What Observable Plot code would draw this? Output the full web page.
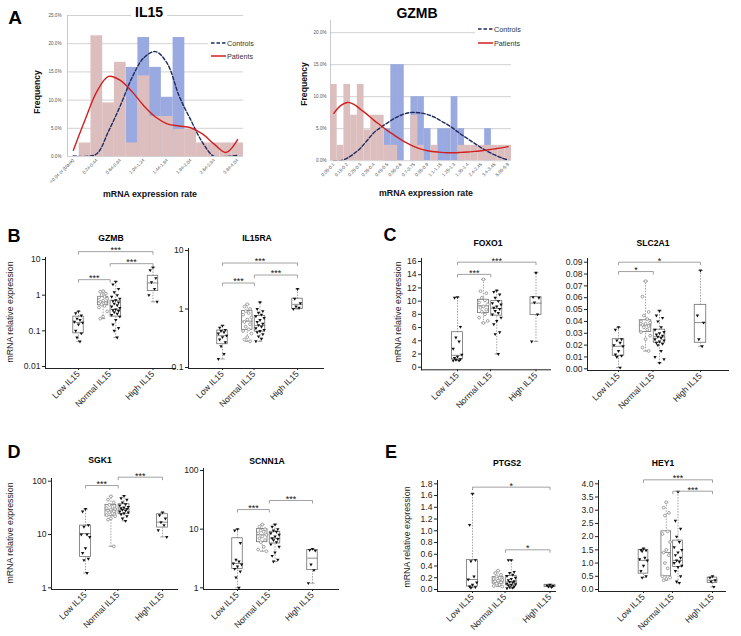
<!DOCTYPE html>
<html><head><meta charset="utf-8">
<script src="https://cdn.jsdelivr.net/npm/d3@7"></script>
<script src="https://cdn.jsdelivr.net/npm/@observablehq/plot@0.6"></script>
<style>
body{margin:0;background:#fff;}
#fig{position:relative;width:741px;height:636px;overflow:hidden;background:#fff;font-family:"Liberation Sans",Arial,sans-serif;}
.t{position:absolute;white-space:nowrap;line-height:1;}
</style></head><body><div id="fig"></div>
<script>
// ================= Panel A : histograms =================
const IL15_bins = ["<0.04 or (blank)","0.04-0.24","0.24-0.44","0.44-0.64","0.64-0.84","0.84-1.04","1.04-1.24","1.24-1.44","1.44-1.64","1.64-1.84","1.84-2.04","2.24-2.44","2.64-2.84","3.24-3.44","3.84-4.04"];
const IL15_controls = [0,0,0,0,0,15.8,21.1,15.8,10.5,21.1,0,0,0,0,0];
const IL15_patients = [0,2.4,21.4,9.5,16.7,2.4,14.3,7.1,7.1,4.8,4.8,2.4,2.4,2.4,2.4];
const IL15_controlsFit = [0.1,0,0.5,4.5,9,14,17.5,18.6,16.5,10.8,6.5,2.5,0,0,0.2];
const IL15_patientsFit = [1.1,6.5,11.5,14.2,13.5,11.5,9,7,5.8,5.4,5.1,4,2.2,0.7,3.0];
const IL15_yticks = [0,5,10,15,20,25];

const GZMBh_bins = ["0.05-0.1","0.1-0.15","0.15-0.2","0.2-0.25","0.25-0.3","0.3-0.35","0.35-0.4","0.4-0.45","0.45-0.5","0.5-0.55","0.55-0.6","0.6-0.65","0.7-0.75","0.75-0.8","0.85-0.9","0.95-1","1.1-1.15","1.15-1.2","1.25-1.3","1.3-1.35","1.35-1.4","1.6-1.65","2.4-2.45","2.75-2.8","3.4-3.45","4.15-4.2","5.85-5.9"];
const GZMBh_controls = [0,0,0,0,0,0,0,0,5,15,15,0,10,10,5,0,5,5,10,5,0,0,0,5,0,0,0];
const GZMBh_patients = [11.9,2.4,11.9,7.1,11.9,4.8,7.1,7.1,2.4,2.4,0,0,7.1,2.4,0,2.4,0,0,0,2.4,2.4,2.4,2.4,2.4,2.4,2.4,2.4];
const GZMBh_controlsFit = [0,0,0.4,1.1,2.0,3.2,4.4,5.2,5.9,6.6,7.1,7.45,7.55,7.45,7.2,6.8,6.2,5.6,4.9,4.1,3.4,2.7,2.0,1.4,0.9,0.45,0.1];
const GZMBh_patientsFit = [7.4,8.6,9.1,8.8,8.0,7.2,6.3,5.5,4.7,4.0,3.3,2.7,2.2,1.8,1.55,1.4,1.3,1.25,1.25,1.3,1.35,1.45,1.55,1.7,1.85,2.0,2.2];
const GZMBh_yticks = [0,5,10,15,20];

// ================= Panels B-E : box plots =================
const groupLabels = ["Low IL15","Normal IL15","High IL15"];

const GZMB_low = [0.35,0.31,0.27,0.22,0.2,0.18,0.17,0.15,0.1,0.085,0.065,0.05];
const GZMB_normG = [1.3,1.25,1.1,1.0,0.9,0.85,0.8,0.7,0.65,0.6,0.55,0.5,0.45,0.35,0.25,0.22];
const GZMB_normB = [2.4,2.0,1.5,1.2,1.0,0.9,0.8,0.72,0.68,0.62,0.58,0.52,0.48,0.44,0.4,0.38,0.36,0.33,0.3,0.28,0.25,0.2,0.15,0.12,0.1,0.065];
const GZMB_high = [6.0,5.0,3.0,2.3,1.5,1.0,0.65];
const GZMB_box = [[0.085,0.17,0.25],[0.52,0.65,0.88],[0.25,0.4,0.7],[1.3,2.2,3.5]];
const GZMB_ticks = [0.01,0.1,1,10];
const GZMB_sig = [["low","normal",2.72,"***"],["normal","high",7.64,"***"],["low","high",16.6,"***"]];

const IL15RA_low = [0.52,0.48,0.44,0.42,0.4,0.38,0.35,0.33,0.3,0.27,0.23,0.17,0.14];
const IL15RA_normG = [1.2,1.1,1.0,0.92,0.85,0.8,0.72,0.66,0.6,0.55,0.5,0.45,0.42,0.38,0.33,0.3,0.28];
const IL15RA_normB = [1.3,1.0,0.92,0.86,0.8,0.75,0.7,0.65,0.6,0.56,0.53,0.5,0.47,0.44,0.42,0.4,0.37,0.34,0.31,0.28];
const IL15RA_high = [2.2,1.5,1.25,1.1,1.05,1.0];
const IL15RA_box = [[0.25,0.35,0.43],[0.44,0.62,0.92],[0.41,0.52,0.76],[1.0,1.2,1.5]];
const IL15RA_ticks = [0.1,1,10];
const IL15RA_sig = [["low","normal",2.78,"***"],["normal","high",3.81,"***"],["low","high",6.11,"***"]];

const FOXO1_low = [10.6,10.5,6.1,4.5,3.9,2.8,1.9,1.6,1.4,1.2,1.1,1.0,1.0];
const FOXO1_normG = [13.3,11.5,11.2,10.5,10.1,9.8,9.5,9.2,9.0,8.7,8.4,8.0,7.5,7.0,6.7];
const FOXO1_normB = [11.6,11.4,11.0,10.5,10.0,9.7,9.5,9.2,9.0,8.8,8.5,8.2,8.0,7.5,7.0,6.5,5.3,5.0,2.0];
const FOXO1_high = [14.3,10.6,10.5,9.8,8.0,3.9];
const FOXO1_box = [[1.2,1.8,5.3],[8.2,9.3,10.2],[7.8,8.9,10.0],[7.9,9.7,10.6]];
const FOXO1_ticks = [0,2,4,6,8,10,12,14,16];
const FOXO1_sig = [["low","normal",14.05,"***"],["low","high",15.9,"***"]];

const SLC2A1_low = [0.035,0.033,0.025,0.024,0.022,0.020,0.019,0.015,0.012,0.011,0.010,0.001];
const SLC2A1_normG = [0.074,0.061,0.048,0.045,0.042,0.040,0.039,0.038,0.037,0.036,0.035,0.033,0.031,0.028,0.025,0.018,0.015];
const SLC2A1_normB = [0.049,0.045,0.043,0.040,0.035,0.033,0.031,0.030,0.029,0.028,0.027,0.026,0.025,0.024,0.023,0.022,0.021,0.020,0.015,0.010,0.008,0.005];
const SLC2A1_high = [0.083,0.045,0.039,0.025,0.019];
const SLC2A1_box = [[0.011,0.019,0.025],[0.031,0.037,0.041],[0.022,0.027,0.033],[0.022,0.039,0.054]];
const SLC2A1_ticks = [0,0.01,0.02,0.03,0.04,0.05,0.06,0.07,0.08,0.09];
const SLC2A1_sig = [["low","normal",0.0821,"*"],["low","high",0.090,"*"]];

const SGK1_low = [30,27,15,14,10,10,9,5.5,4.5,3.5,3.3,1.9];
const SGK1_normG = [52,45,40,36,33,31,30,29,28,27,26,25,23,22,20,19,6];
const SGK1_normB = [53,48,45,40,37,35,33,32,31,30,29,28,27,26,25,24,22,20,18];
const SGK1_high = [26,23,20,17,15,12,9];
const SGK1_box = [[3.8,10.4,14.7],[22,29,36],[24,30,37],[13.5,17,24]];
const SGK1_ticks = [1,10,100];
const SGK1_sig = [["low","normal",83,"***"],["normal","high",119,"***"]];

const SCNN1A_low = [10,9.5,5.8,3.0,2.8,2.6,2.5,2.3,2.1,1.9,1.5,1.0];
const SCNN1A_normG = [12,11,10,9.5,9,8.5,8,7.5,7,6.5,6,5,4.5,4.2];
const SCNN1A_normB = [12,11,10,9.5,9,8.5,8,7.5,7,6.8,6.5,6,5.5,5,4,3.5,3,2.8];
const SCNN1A_high = [4.6,4.4,4.3,2.5,2.0,1.2];
const SCNN1A_box = [[2.1,2.6,7.0],[6,8,10],[5.7,7,9],[2.0,3.2,4.4]];
const SCNN1A_ticks = [1,10,100];
const SCNN1A_sig = [["low","normal",21.6,"***"],["normal","high",30.8,"***"]];

const PTGS2_low = [1.63,1.1,0.5,0.48,0.22,0.17,0.12,0.08,0.05,0.04,0.03];
const PTGS2_normG = [0.32,0.28,0.25,0.22,0.2,0.18,0.16,0.15,0.14,0.12,0.1,0.08,0.06,0.05];
const PTGS2_normB = [0.5,0.5,0.3,0.28,0.25,0.23,0.2,0.18,0.16,0.14,0.13,0.12,0.1,0.09,0.08,0.07,0.05,0.04,0.03,0.02];
const PTGS2_high = [0.08,0.07,0.06,0.05,0.04];
const PTGS2_box = [[0.05,0.17,0.5],[0.1,0.15,0.21],[0.07,0.13,0.23],[0.04,0.06,0.08]];
const PTGS2_ticks = [0,0.2,0.4,0.6,0.8,1.0,1.2,1.4,1.6,1.8];
const PTGS2_sig = [["low","high",1.743,"*"],["normal","high",0.676,"*"]];

const HEY1_low = [1.55,1.5,1.48,1.45,1.2,1.15,1.1,0.9,0.7,0.5,0.45];
const HEY1_normG = [3.3,3.1,2.9,2.8,2.2,2.1,1.8,1.5,1.4,1.3,1.0,0.8,0.5,0.45,0.4,0.35];
const HEY1_normB = [3.7,2.6,2.3,2.0,1.8,1.6,1.5,1.4,1.3,1.2,1.1,1.05,1.0,0.9,0.85,0.7,0.5,0.3,0.25];
const HEY1_high = [0.5,0.45,0.35,0.3,0.1];
const HEY1_box = [[0.6,1.1,1.5],[0.5,1.4,2.2],[0.85,1.1,1.85],[0.25,0.35,0.45]];
const HEY1_ticks = [0,0.5,1.0,1.5,2.0,2.5,3.0,3.5,4.0];
const HEY1_sig = [["low","high",4.15,"***"],["normal","high",3.72,"***"]];

// ================= helpers =================
const fig = document.getElementById("fig");
const FONT = '"Liberation Sans", Arial, sans-serif';
function put(el, left, top) {
  el.style.position = "absolute";
  el.style.left = left + "px";
  el.style.top = top + "px";
  fig.appendChild(el);
}
function label(text, x, y, o = {}) {
  const d = document.createElement("div");
  d.className = "t";
  d.textContent = text;
  d.style.left = x + "px"; d.style.top = y + "px";
  d.style.fontSize = (o.size || 8.5) + "px";
  d.style.fontWeight = o.bold ? "bold" : "normal";
  d.style.color = o.color || "#111";
  const ax = o.anchor === "start" ? "0" : o.anchor === "end" ? "-100%" : "-50%";
  d.style.transform = `translate(${ax},-50%)` + (o.rotate ? ` rotate(${o.rotate}deg)` : "");
  if (o.bg) { d.style.background = o.bg; d.style.padding = o.pad || "0 3px"; }
  fig.appendChild(d);
  return d;
}
function legend(x, y, w, h, rows) {
  const d = document.createElement("div");
  d.style.cssText = `position:absolute;left:${x}px;top:${y}px;width:${w}px;height:${h}px;background:#fff;`;
  let html = `<svg width="${w}" height="${h}" style="position:absolute;left:0;top:0">`;
  rows.forEach((r) => {
    html += `<line x1="3" x2="18" y1="${r.y}" y2="${r.y}" stroke="${r.color}" stroke-width="1.5" ${r.dash ? 'stroke-dasharray="3.5,2"' : ""}/>`;
    html += `<text x="19" y="${r.y + 2.5}" font-size="7.2" font-family='${FONT}' fill="#333">${r.text}</text>`;
  });
  html += "</svg>";
  d.innerHTML = html;
  fig.appendChild(d);
}

// ================= histogram builder =================
function hist(c) {
  const mL = 40, mT = 10, mR = 10, mB = 45;
  const n = c.bins.length;
  const idx = d3.range(n);
  const xt = idx.filter(i => i % 2 === 0).map(i => i + 0.5);
  const svg = Plot.plot({
    width: mL + (c.x1 - c.x0) + mR,
    height: mT + (c.yBot - c.yTop) + mB,
    marginLeft: mL, marginTop: mT, marginRight: mR, marginBottom: mB,
    style: {background: "transparent", overflow: "visible", fontFamily: FONT, fontSize: "4.6px", color: "#555"},
    x: {type: "linear", domain: [0, n], ticks: xt, tickFormat: d => c.bins[Math.floor(d)], tickRotate: -45, tickSize: 0, tickPadding: 3, label: null},
    y: {type: "linear", domain: [0, c.yMax], ticks: c.yticks, tickFormat: d => d.toFixed(1) + "%", tickSize: 0, tickPadding: c.pad, label: null},
    marks: [
      Plot.ruleY(c.yticks, {stroke: "#c6c6c6", strokeWidth: 0.8}),
      Plot.ruleX([0], {stroke: "#bdbdbd", strokeWidth: 0.8}),
      Plot.rect(idx, {x1: i => i, x2: i => i + 1, y1: 0, y2: i => c.controls[i], fill: "#9aa9df"}),
      Plot.rect(idx, {x1: i => i, x2: i => i + 1, y1: 0, y2: i => c.patients[i], fill: "#ddbebe"}),
      Plot.line(idx, {x: i => i + 0.5, y: i => c.controlsFit[i], curve: "catmull-rom", stroke: "#1f2a5e", strokeWidth: 1.4, strokeDasharray: "3.5,2", clip: true}),
      Plot.line(idx, {x: i => i + 0.5, y: i => c.patientsFit[i], curve: "catmull-rom", stroke: "#d11f1f", strokeWidth: 1.4, clip: true})
    ]
  });
  put(svg, c.x0 - mL, c.yTop - mT);
}

hist({bins: IL15_bins, controls: IL15_controls, patients: IL15_patients, controlsFit: IL15_controlsFit, patientsFit: IL15_patientsFit,
      yticks: IL15_yticks, yMax: 25, x0: 67, x1: 243, yTop: 15, yBot: 156, pad: 6});
hist({bins: GZMBh_bins, controls: GZMBh_controls, patients: GZMBh_patients, controlsFit: GZMBh_controlsFit, patientsFit: GZMBh_patientsFit,
      yticks: GZMBh_yticks, yMax: 21.9, x0: 330, x1: 511, yTop: 20.1, yBot: 160.3, pad: 4});

// panel A texts
label("A", 15, 17, {size: 19, bold: true, color: "#000"});
label("IL15", 149, 12, {size: 14, bold: true, color: "#000", bg: "#fff", pad: "0 4px"});
label("GZMB", 417, 13, {size: 14, bold: true, color: "#000"});
label("Frequency", 37, 92, {size: 8.6, bold: true, color: "#111", rotate: -90});
label("Frequency", 304, 84, {size: 8.6, bold: true, color: "#111", rotate: -90});
label("mRNA expression rate", 150, 194, {size: 8.8, bold: true, color: "#111"});
label("mRNA expression rate", 426, 193, {size: 8.8, bold: true, color: "#111"});
legend(208, 36, 56, 27, [{y: 7, color: "#1f2a5e", dash: true, text: "Controls"}, {y: 20, color: "#d11f1f", dash: false, text: "Patients"}]);
legend(475, 22, 56, 28, [{y: 7, color: "#1f2a5e", dash: true, text: "Controls"}, {y: 21, color: "#d11f1f", dash: false, text: "Patients"}]);

// ================= box plot builder =================
const POS = {low: 1, normG: 1.66, normB: 2.0, high: 3};
const BR = {low: 1, normal: 1.85, high: 3};
const XT = [1, 1.84, 3];
const J = [0, -0.075, 0.075, -0.04, 0.04, -0.11, 0.11];

function boxPanel(c) {
  const mL = 40, mT = 35, mR = 5, mB = 55;
  const [v1, p1, v2, p2] = c.ref;
  let pv, vp;
  if (c.type === "log") {
    const a = Math.log10(v1), b = Math.log10(v2);
    pv = p => 10 ** (a + (p - p1) * (b - a) / (p2 - p1));
    vp = v => p1 + (Math.log10(v) - a) * (p2 - p1) / (b - a);
  } else {
    pv = p => v1 + (p - p1) * (v2 - v1) / (p2 - p1);
    vp = v => p1 + (v - v1) * (p2 - p1) / (v2 - v1);
  }
  const u = p => 1 + (p - c.lowPx) * 2 / (c.highPx - c.lowPx);
  const keys = ["low", "normG", "normB", "high"];
  const pts = [];
  keys.forEach((k) => c.data[k].forEach((v, i) => pts.push({k, x: POS[k] + J[i % 7], y: v})));
  const boxes = keys.map((k, j) => ({x: POS[k], q1: c.box[j][0], med: c.box[j][1], q3: c.box[j][2], min: d3.min(c.data[k]), max: d3.max(c.data[k])}));
  const br = c.sig.map(([a, b, y, s]) => ({xa: BR[a], xb: BR[b], y, yd: pv(vp(y) + 3), s}));
  const HW = 0.14, CW = 0.06;
  const svg = Plot.plot({
    width: mL + (c.x1 - c.x0) + mR,
    height: mT + (c.axisBot - c.axisTop) + mB,
    marginLeft: mL, marginTop: mT, marginRight: mR, marginBottom: mB,
    style: {background: "transparent", overflow: "visible", fontFamily: FONT, fontSize: "8.6px", color: "#222"},
    x: {type: "linear", domain: [u(c.x0), u(c.x1)], ticks: XT, tickFormat: d => groupLabels[XT.indexOf(d)], tickRotate: -45, tickSize: 2, tickPadding: 2, line: true, label: null},
    y: {type: c.type, domain: [pv(c.axisBot), pv(c.axisTop)], ticks: c.ticks, tickFormat: c.fmt, tickSize: 3, tickPadding: 2, line: true, label: null},
    marks: [
      Plot.link(boxes, {x1: "x", x2: "x", y1: "min", y2: "q1", stroke: "#8a8a8a", strokeWidth: 0.8, strokeDasharray: "1.5,1.3"}),
      Plot.link(boxes, {x1: "x", x2: "x", y1: "q3", y2: "max", stroke: "#8a8a8a", strokeWidth: 0.8, strokeDasharray: "1.5,1.3"}),
      Plot.link(boxes, {x1: d => d.x - CW, x2: d => d.x + CW, y1: "min", y2: "min", stroke: "#8a8a8a", strokeWidth: 0.8}),
      Plot.link(boxes, {x1: d => d.x - CW, x2: d => d.x + CW, y1: "max", y2: "max", stroke: "#8a8a8a", strokeWidth: 0.8}),
      Plot.rect(boxes, {x1: d => d.x - HW, x2: d => d.x + HW, y1: "q1", y2: "q3", fill: "none", stroke: "#6f6f6f", strokeWidth: 0.8}),
      Plot.link(boxes, {x1: d => d.x - HW, x2: d => d.x + HW, y1: "med", y2: "med", stroke: "#6f6f6f", strokeWidth: 0.8}),
      Plot.dot(pts.filter(d => d.k === "normG"), {x: "x", y: "y", symbol: "circle", r: 1.4, fill: "#fff", stroke: "#8c8c8c", strokeWidth: 0.8}),
      Plot.dot(pts.filter(d => d.k !== "normG"), {x: "x", y: "y", symbol: "triangle", rotate: 180, r: 1.25, fill: "#111", stroke: "none"}),
      Plot.link(br, {x1: "xa", x2: "xb", y1: "y", y2: "y", stroke: "#8a8a8a", strokeWidth: 0.8}),
      Plot.link(br, {x1: "xa", x2: "xa", y1: "y", y2: "yd", stroke: "#8a8a8a", strokeWidth: 0.8}),
      Plot.link(br, {x1: "xb", x2: "xb", y1: "y", y2: "yd", stroke: "#8a8a8a", strokeWidth: 0.8}),
      Plot.text(br, {x: d => (d.xa + d.xb) / 2, y: "y", text: "s", dy: -1.5, fontSize: 9, fill: "#111"})
    ]
  });
  put(svg, c.x0 - mL, c.axisTop - mT);
  label(c.title, c.tx, c.ty, {size: 8.6, bold: true, color: "#000"});
}

const fmtPlain = d => String(d);
const f2 = d3.format(".2f"), f1 = d3.format(".1f");

boxPanel({title: "GZMB", tx: 111, ty: 238, type: "log", ref: [10, 259, 0.01, 366], axisTop: 257, axisBot: 368, x0: 45, x1: 175, lowPx: 78, highPx: 152.5,
  ticks: GZMB_ticks, fmt: fmtPlain, data: {low: GZMB_low, normG: GZMB_normG, normB: GZMB_normB, high: GZMB_high}, box: GZMB_box, sig: GZMB_sig});
boxPanel({title: "IL15RA", tx: 257, ty: 238, type: "log", ref: [10, 250, 0.1, 367], axisTop: 248, axisBot: 368, x0: 188, x1: 323, lowPx: 222, highPx: 297,
  ticks: IL15RA_ticks, fmt: fmtPlain, data: {low: IL15RA_low, normG: IL15RA_normG, normB: IL15RA_normB, high: IL15RA_high}, box: IL15RA_box, sig: IL15RA_sig});
boxPanel({title: "FOXO1", tx: 488, ty: 243, type: "linear", ref: [16, 261, 0, 366.7], axisTop: 258, axisBot: 369.3, x0: 421, x1: 550, lowPx: 457, highPx: 535.5,
  ticks: FOXO1_ticks, fmt: fmtPlain, data: {low: FOXO1_low, normG: FOXO1_normG, normB: FOXO1_normB, high: FOXO1_high}, box: FOXO1_box, sig: FOXO1_sig});
boxPanel({title: "SLC2A1", tx: 653, ty: 243, type: "linear", ref: [0.09, 261.7, 0, 368.3], axisTop: 258, axisBot: 370, x0: 587, x1: 728, lowPx: 618, highPx: 700,
  ticks: SLC2A1_ticks, fmt: f2, data: {low: SLC2A1_low, normG: SLC2A1_normG, normB: SLC2A1_normB, high: SLC2A1_high}, box: SLC2A1_box, sig: SLC2A1_sig});
boxPanel({title: "SGK1", tx: 100, ty: 460, type: "log", ref: [100, 480.7, 1, 587.3], axisTop: 478, axisBot: 589, x0: 51, x1: 177, lowPx: 85, highPx: 162,
  ticks: SGK1_ticks, fmt: fmtPlain, data: {low: SGK1_low, normG: SGK1_normG, normB: SGK1_normB, high: SGK1_high}, box: SGK1_box, sig: SGK1_sig});
boxPanel({title: "SCNN1A", tx: 267, ty: 461, type: "log", ref: [100, 470, 1, 587.3], axisTop: 468, axisBot: 589, x0: 203, x1: 338, lowPx: 237, highPx: 312,
  ticks: SCNN1A_ticks, fmt: fmtPlain, data: {low: SCNN1A_low, normG: SCNN1A_normG, normB: SCNN1A_normB, high: SCNN1A_high}, box: SCNN1A_box, sig: SCNN1A_sig});
boxPanel({title: "PTGS2", tx: 507, ty: 463, type: "linear", ref: [1.8, 483.3, 0, 589], axisTop: 480, axisBot: 591, x0: 437, x1: 555, lowPx: 472, highPx: 549.5,
  ticks: PTGS2_ticks, fmt: f1, data: {low: PTGS2_low, normG: PTGS2_normG, normB: PTGS2_normB, high: PTGS2_high}, box: PTGS2_box, sig: PTGS2_sig});
boxPanel({title: "HEY1", tx: 663, ty: 463, type: "linear", ref: [4, 483.3, 0, 589], axisTop: 480, axisBot: 591, x0: 598, x1: 725, lowPx: 643, highPx: 712,
  ticks: HEY1_ticks, fmt: f1, data: {low: HEY1_low, normG: HEY1_normG, normB: HEY1_normB, high: HEY1_high}, box: HEY1_box, sig: HEY1_sig});

// panel letters and y labels
label("B", 14, 236, {size: 18, bold: true, color: "#000"});
label("C", 390, 234.5, {size: 18, bold: true, color: "#000"});
label("D", 14, 452, {size: 18, bold: true, color: "#000"});
label("E", 391, 451.5, {size: 18, bold: true, color: "#000"});
label("mRNA relative expression", 10, 312, {size: 8.8, color: "#222", rotate: -90});
label("mRNA relative expression", 398, 312, {size: 8.8, color: "#222", rotate: -90});
label("mRNA relative expression", 10, 533, {size: 8.8, color: "#222", rotate: -90});
label("mRNA relative expression", 407, 537, {size: 8.8, color: "#222", rotate: -90});
</script></body></html>
